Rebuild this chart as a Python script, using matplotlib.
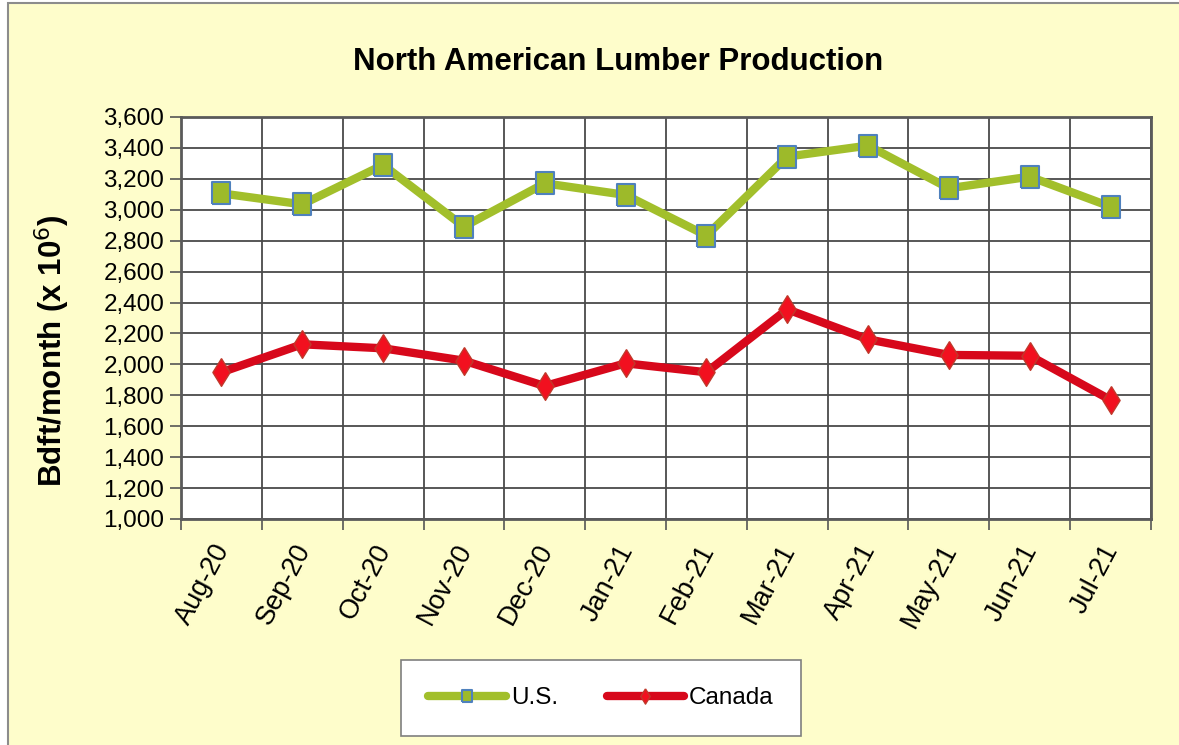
import matplotlib
matplotlib.use("Agg")
import matplotlib.pyplot as plt
from matplotlib.patches import Rectangle
from matplotlib.ticker import FuncFormatter, FixedLocator
import numpy as np

months = ["Aug-20", "Sep-20", "Oct-20", "Nov-20", "Dec-20", "Jan-21",
          "Feb-21", "Mar-21", "Apr-21", "May-21", "Jun-21", "Jul-21"]
us = [3106, 3035, 3290, 2891, 3171, 3096, 2833, 3344, 3415, 3139, 3214, 3020]
canada = [1949, 2130, 2104, 2024, 1860, 2007, 1949, 2356, 2162, 2061, 2056, 1770]
yticks = list(range(1000, 3601, 200))

plt.rcParams['font.family'] = ['Liberation Sans', 'DejaVu Sans']
bg = '#FEFDCB'

# the source picture is a bit taller than wide, so markers are tall shapes
tall_square = [(-0.78, -1), (0.78, -1), (0.78, 1), (-0.78, 1), (-0.78, -1)]
tall_diamond = [(0, 1), (0.62, 0), (0, -1), (-0.62, 0), (0, 1)]

fig = plt.figure(figsize=(11.79, 7.45), dpi=100)
fig.patch.set_facecolor('white')
# chart area frame (yellow with grey left/top border)
frame = Rectangle((8 / 1179, -0.01), 1.1, 1 - 3 / 745 + 0.01,
                  transform=fig.transFigure, facecolor=bg,
                  edgecolor='#8c8c8c', linewidth=1.5, zorder=-10)
fig.patches.append(frame)

ax = fig.add_axes([181 / 1179, 1 - 519 / 745, 970 / 1179, 402 / 745])
ax.set_facecolor('white')

x = np.arange(len(months))
ax.plot(x, us, color='#A2BF2B', linewidth=6, marker=tall_square,
        markersize=16, markerfacecolor='#9DBA2A', markeredgecolor='#4F81BD',
        markeredgewidth=1.5, label='U.S.', zorder=3,
        solid_capstyle='round')
ax.plot(x, canada, color='#D7081B', linewidth=6, marker=tall_diamond,
        markersize=20, markerfacecolor='#F2101F', markeredgecolor='#C0392B',
        markeredgewidth=1.0, label='Canada', zorder=3,
        solid_capstyle='round')

ax.set_xlim(-0.5, len(months) - 0.5)
ax.set_ylim(1000, 3600)
ax.set_yticks(yticks)
ax.yaxis.set_major_formatter(FuncFormatter(lambda v, p: f"{int(v):,}"))

# label anchors sit a little left of each category centre, as in the source
ax.set_xticks(x - 0.12)
ax.set_xticklabels(months, rotation=62, ha='right', va='top',
                   rotation_mode='anchor', fontsize=19.5)
ax.xaxis.set_minor_locator(FixedLocator(np.arange(-0.5, len(months), 1.0)))
ax.tick_params(axis='x', which='major', length=0, pad=15)
ax.tick_params(axis='x', which='minor', length=8, width=1.2, color='#555555',
               direction='out')
ax.tick_params(axis='y', length=8, width=1.2, color='#555555',
               direction='out', labelsize=17.5, pad=4)

ax.grid(True, axis='y', which='major', color='#4a4a4a', linewidth=1.3)
ax.grid(True, axis='x', which='minor', color='#4a4a4a', linewidth=1.3)
ax.set_axisbelow(True)
for s in ax.spines.values():
    s.set_color('#5a5a5a')
    s.set_linewidth(2)

ax.set_ylabel("Bdft/month (x 10$^6$)", fontsize=22.5, fontweight='bold')
ax.yaxis.set_label_coords(-0.112, 0.418)

fig.text(618 / 1179, 1 - 62 / 745, "North American Lumber Production",
         ha='center', va='center', fontsize=22.5, fontweight='bold')

leg = fig.legend(loc='center', bbox_to_anchor=(601 / 1179, 1 - 698 / 745),
                 ncol=2, fontsize=17.5, frameon=True, fancybox=False,
                 handlelength=3.2, columnspacing=2.0, borderpad=1.1,
                 handletextpad=0.2, markerscale=0.55)
leg.get_frame().set_edgecolor('#7f7f7f')
leg.get_frame().set_linewidth(1.2)
leg.get_frame().set_facecolor('white')
leg.get_frame().set_alpha(1)

fig.savefig("out.png", dpi=100, facecolor=fig.get_facecolor())
